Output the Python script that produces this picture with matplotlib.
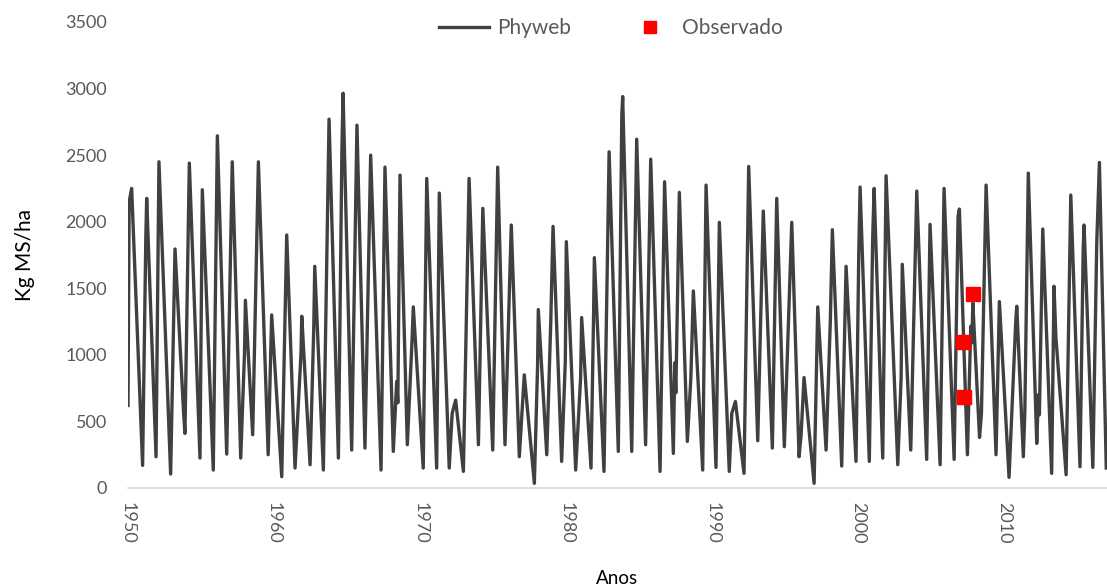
import matplotlib
matplotlib.use("Agg")
import matplotlib.pyplot as plt
from matplotlib.lines import Line2D

plt.rcParams['font.family'] = ['Lato', 'DejaVu Sans']

# Phyweb series: (decimal year, Kg MS/ha), troughs/peaks/shoulders
anos = [
    1950.00, 1950.08, 1950.25, 1951.00, 1951.22, 1951.28, 1951.92, 1952.12, 1952.92, 1953.22,
    1953.80, 1953.90, 1954.20, 1954.93, 1955.09, 1955.84, 1956.12, 1956.76, 1957.08, 1957.14,
    1957.72, 1957.98, 1958.04, 1958.54, 1958.93, 1959.60, 1959.84, 1960.53, 1960.87, 1961.44,
    1961.85, 1961.90, 1962.47, 1962.72, 1962.79, 1963.38, 1963.77, 1964.41, 1964.65, 1964.73,
    1965.32, 1965.68, 1966.23, 1966.62, 1967.33, 1967.60, 1968.17, 1968.40, 1968.48, 1968.63,
    1969.13, 1969.45, 1969.54, 1970.22, 1970.46, 1971.14, 1971.32, 1972.00, 1972.20, 1972.44,
    1972.97, 1973.36, 1974.00, 1974.30, 1974.98, 1975.32, 1975.82, 1976.25, 1976.80, 1977.14,
    1977.83, 1978.05, 1978.10, 1978.68, 1978.95, 1979.11, 1979.70, 1979.95, 1980.02, 1980.66,
    1981.00, 1981.07, 1981.71, 1981.88, 1981.94, 1982.60, 1982.95, 1983.58, 1983.82, 1983.88,
    1984.50, 1984.84, 1985.45, 1985.80, 1986.44, 1986.75, 1987.35, 1987.45, 1987.52, 1987.76,
    1988.31, 1988.55, 1988.72, 1989.36, 1989.59, 1990.27, 1990.50, 1991.18, 1991.35, 1991.60,
    1992.19, 1992.51, 1993.13, 1993.51, 1994.13, 1994.43, 1994.95, 1995.46, 1995.96, 1996.10,
    1996.30, 1996.99, 1997.24, 1997.81, 1998.10, 1998.24, 1998.88, 1999.10, 1999.18, 1999.86,
    2000.05, 2000.14, 2000.77, 2001.00, 2001.10, 2001.69, 2001.92, 2002.72, 2002.95, 2003.03,
    2003.61, 2004.02, 2004.70, 2004.93, 2005.62, 2005.89, 2006.58, 2006.85, 2006.94, 2007.49,
    2007.72, 2007.80, 2007.86, 2008.32, 2008.45, 2008.77, 2009.45, 2009.68, 2010.34, 2010.80,
    2010.87, 2011.32, 2011.42, 2011.66, 2012.24, 2012.35, 2012.42, 2012.65, 2013.26, 2013.42,
    2013.55, 2014.25, 2014.57, 2015.20, 2015.42, 2015.48, 2016.08, 2016.35, 2016.53, 2017.00,
]
phyweb = [
    620, 2150, 2250, 170, 1880, 2175, 235, 2450, 105, 1795,
    580, 410, 2440, 225, 2240, 135, 2645, 255, 2100, 2450,
    225, 1015, 1410, 400, 2450, 250, 1300, 85, 1900, 150,
    1015, 1290, 175, 1190, 1665, 135, 2770, 225, 2540, 2965,
    285, 2725, 300, 2500, 135, 2410, 275, 800, 640, 2350,
    325, 1100, 1360, 150, 2325, 150, 2215, 150, 560, 660,
    125, 2325, 325, 2100, 285, 2410, 325, 1975, 235, 850,
    35, 910, 1340, 250, 1230, 1965, 200, 950, 1850, 135,
    830, 1280, 150, 1250, 1730, 125, 2525, 275, 2800, 2940,
    275, 2620, 325, 2470, 125, 2300, 260, 940, 715, 2220,
    350, 830, 1480, 135, 2275, 155, 1995, 125, 560, 650,
    110, 2415, 355, 2080, 300, 2175, 310, 1995, 235, 400,
    830, 35, 1360, 285, 1250, 1940, 165, 1250, 1665, 200,
    1775, 2260, 200, 1870, 2250, 225, 2345, 175, 830, 1680,
    285, 2230, 215, 1980, 175, 2250, 215, 2040, 2095, 250,
    1215, 1090, 1390, 380, 560, 2275, 250, 1400, 80, 1250,
    1365, 235, 560, 2365, 335, 700, 550, 1945, 110, 1515,
    1135, 100, 2200, 160, 1800, 1975, 155, 1850, 2445, 150,
]

# Observed points
obs_anos = [2007.21, 2007.28, 2007.85]
obs_valores = [1095, 680, 1455]

x_ticks = [1950, 1960, 1970, 1980, 1990, 2000, 2010]
y_ticks = [0, 500, 1000, 1500, 2000, 2500, 3000, 3500]

line_color = '#404040'
text_color = '#595959'

fig = plt.figure(figsize=(11.07, 5.88), dpi=100)
ax = fig.add_axes([128 / 1107, 1 - 488 / 588, 1 - 128 / 1107, (488 - 22) / 588])

ax.plot(anos, phyweb, color=line_color, lw=2.4, solid_joinstyle='round')
ax.plot(obs_anos, obs_valores, 's', color='#ff0000', markersize=9.5, ls='none')

ax.set_xlim(1950, 2017.05)
ax.set_ylim(0, 3500)
ax.set_xticks(x_ticks)
ax.set_xticklabels([str(t) for t in x_ticks], rotation=-90)
ax.set_yticks(y_ticks)
ax.tick_params(axis='both', length=0, labelsize=13, labelcolor=text_color)
ax.tick_params(axis='x', pad=10)
ax.tick_params(axis='y', pad=15)

for side in ['top', 'right', 'left']:
    ax.spines[side].set_visible(False)
ax.spines['bottom'].set_color('#d9d9d9')
ax.spines['bottom'].set_linewidth(1.2)

ax.set_xlabel('Anos', fontsize=13.5, color='black', labelpad=19)
ax.set_ylabel('Kg MS/ha', fontsize=15, color='black', labelpad=22)

handles = [
    Line2D([], [], color=line_color, lw=2.4),
    Line2D([], [], marker='s', color='#ff0000', ls='none', markersize=9),
]
fig.legend(handles, ['Phyweb', 'Observado'], loc='center', bbox_to_anchor=(0.552, 0.952),
           ncol=2, frameon=False, fontsize=15, labelcolor=text_color,
           handlelength=2.4, handletextpad=0.35, columnspacing=2.6)

fig.savefig('out.png', dpi=100)
